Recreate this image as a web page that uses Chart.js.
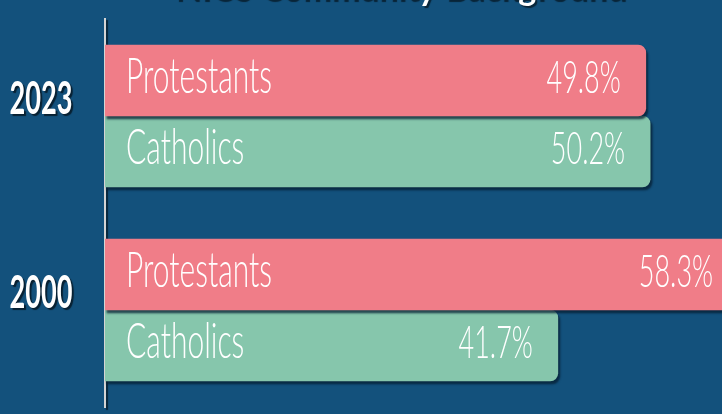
<!DOCTYPE html>
<html>
<head>
<meta charset="utf-8">
<script src="https://cdn.jsdelivr.net/npm/chart.js@4.4.1/dist/chart.umd.min.js"></script>
<style>
  html, body { margin: 0; padding: 0; background: #13517c; overflow: hidden; width: 722px; height: 414px; }
  #wrap { position: absolute; left: 0; top: -40px; width: 800px; height: 460px; }
</style>
</head>
<body>
<div id="wrap"><canvas id="chart" width="800" height="460"></canvas></div>
<script>
const years = ["2023", "2000"];
const protestants = [49.8, 58.3];
const catholics = [50.2, 41.7];
const seriesNames = ["Protestants", "Catholics"];
const titleText = "NICS Community Background";

const ctx = document.getElementById("chart").getContext("2d");

// draw text squeezed horizontally (the original uses a condensed face)
function drawSqueezed(c, text, x, y, align, sx) {
  c.save();
  c.translate(x, y);
  c.scale(sx, 1);
  c.textAlign = align;
  c.fillText(text, 0, 0);
  c.restore();
}

// shadows for title text and bars
const shadows = {
  id: "shadows",
  beforeDraw(chart) {
    const c = chart.ctx;
    c.shadowColor = "rgba(0,0,0,0.55)";
    c.shadowOffsetX = 2;
    c.shadowOffsetY = 2;
    c.shadowBlur = 1;
  },
  beforeDatasetsDraw(chart) {
    const c = chart.ctx;
    c.shadowColor = "rgba(5,30,50,0.75)";
    c.shadowOffsetX = 2;
    c.shadowOffsetY = 3;
    c.shadowBlur = 2;
  },
  afterDatasetsDraw(chart) {
    const c = chart.ctx;
    c.shadowColor = "transparent";
    c.shadowOffsetX = 0;
    c.shadowOffsetY = 0;
    c.shadowBlur = 0;
  }
};

// series name on the left of each bar, value near its end
const barLabels = {
  id: "barLabels",
  afterDatasetsDraw(chart) {
    const c = chart.ctx;
    c.save();
    c.fillStyle = "#ffffff";
    c.textBaseline = "alphabetic";
    chart.data.datasets.forEach((ds, i) => {
      chart.getDatasetMeta(i).data.forEach((bar, j) => {
        const y = bar.y + 12;
        c.font = "300 50px Lato";
        drawSqueezed(c, ds.label, bar.base + 21, y, "left", 0.6);
        c.font = "300 45px Lato";
        drawSqueezed(c, ds.data[j].toFixed(1) + "%", bar.x - 25, y, "right", 0.6);
      });
    });
    c.restore();
  }
};

// year labels next to the axis
const yearLabels = {
  id: "yearLabels",
  afterDraw(chart) {
    const c = chart.ctx;
    const yScale = chart.scales.y;
    c.save();
    c.fillStyle = "#ffffff";
    c.font = "bold 46px Lato";
    c.textBaseline = "alphabetic";
    c.shadowColor = "rgba(0,0,0,0.6)";
    c.shadowOffsetX = 2;
    c.shadowOffsetY = 2;
    c.shadowBlur = 1;
    years.forEach((yr, i) => {
      drawSqueezed(c, yr, 41, yScale.getPixelForValue(i) - 2, "center", 0.59);
    });
    c.restore();
  }
};

new Chart(ctx, {
  type: "bar",
  data: {
    labels: years,
    datasets: [
      { label: seriesNames[0], data: protestants, backgroundColor: "#f07d88" },
      { label: seriesNames[1], data: catholics, backgroundColor: "#86c6ac" }
    ]
  },
  options: {
    indexAxis: "y",
    responsive: false,
    animation: false,
    layout: { padding: { top: 12, bottom: 13, left: 0, right: 0 } },
    datasets: {
      bar: { barThickness: 71, borderRadius: 8, borderSkipped: "start" }
    },
    plugins: {
      legend: { display: false },
      tooltip: { enabled: false },
      title: {
        display: true,
        text: titleText,
        color: "#ffffff",
        font: { family: "Lato", size: 34, weight: "bold", lineHeight: 1 },
        padding: { top: 0, bottom: 13 }
      }
    },
    scales: {
      x: { display: false, min: 0, max: 64 },
      y: {
        z: 1,
        grid: { display: false },
        border: { color: "#d4d4d4", width: 2 },
        ticks: { display: false },
        afterFit(scale) { scale.width = 105; }
      }
    }
  },
  plugins: [shadows, barLabels, yearLabels]
});
</script>
</body>
</html>
